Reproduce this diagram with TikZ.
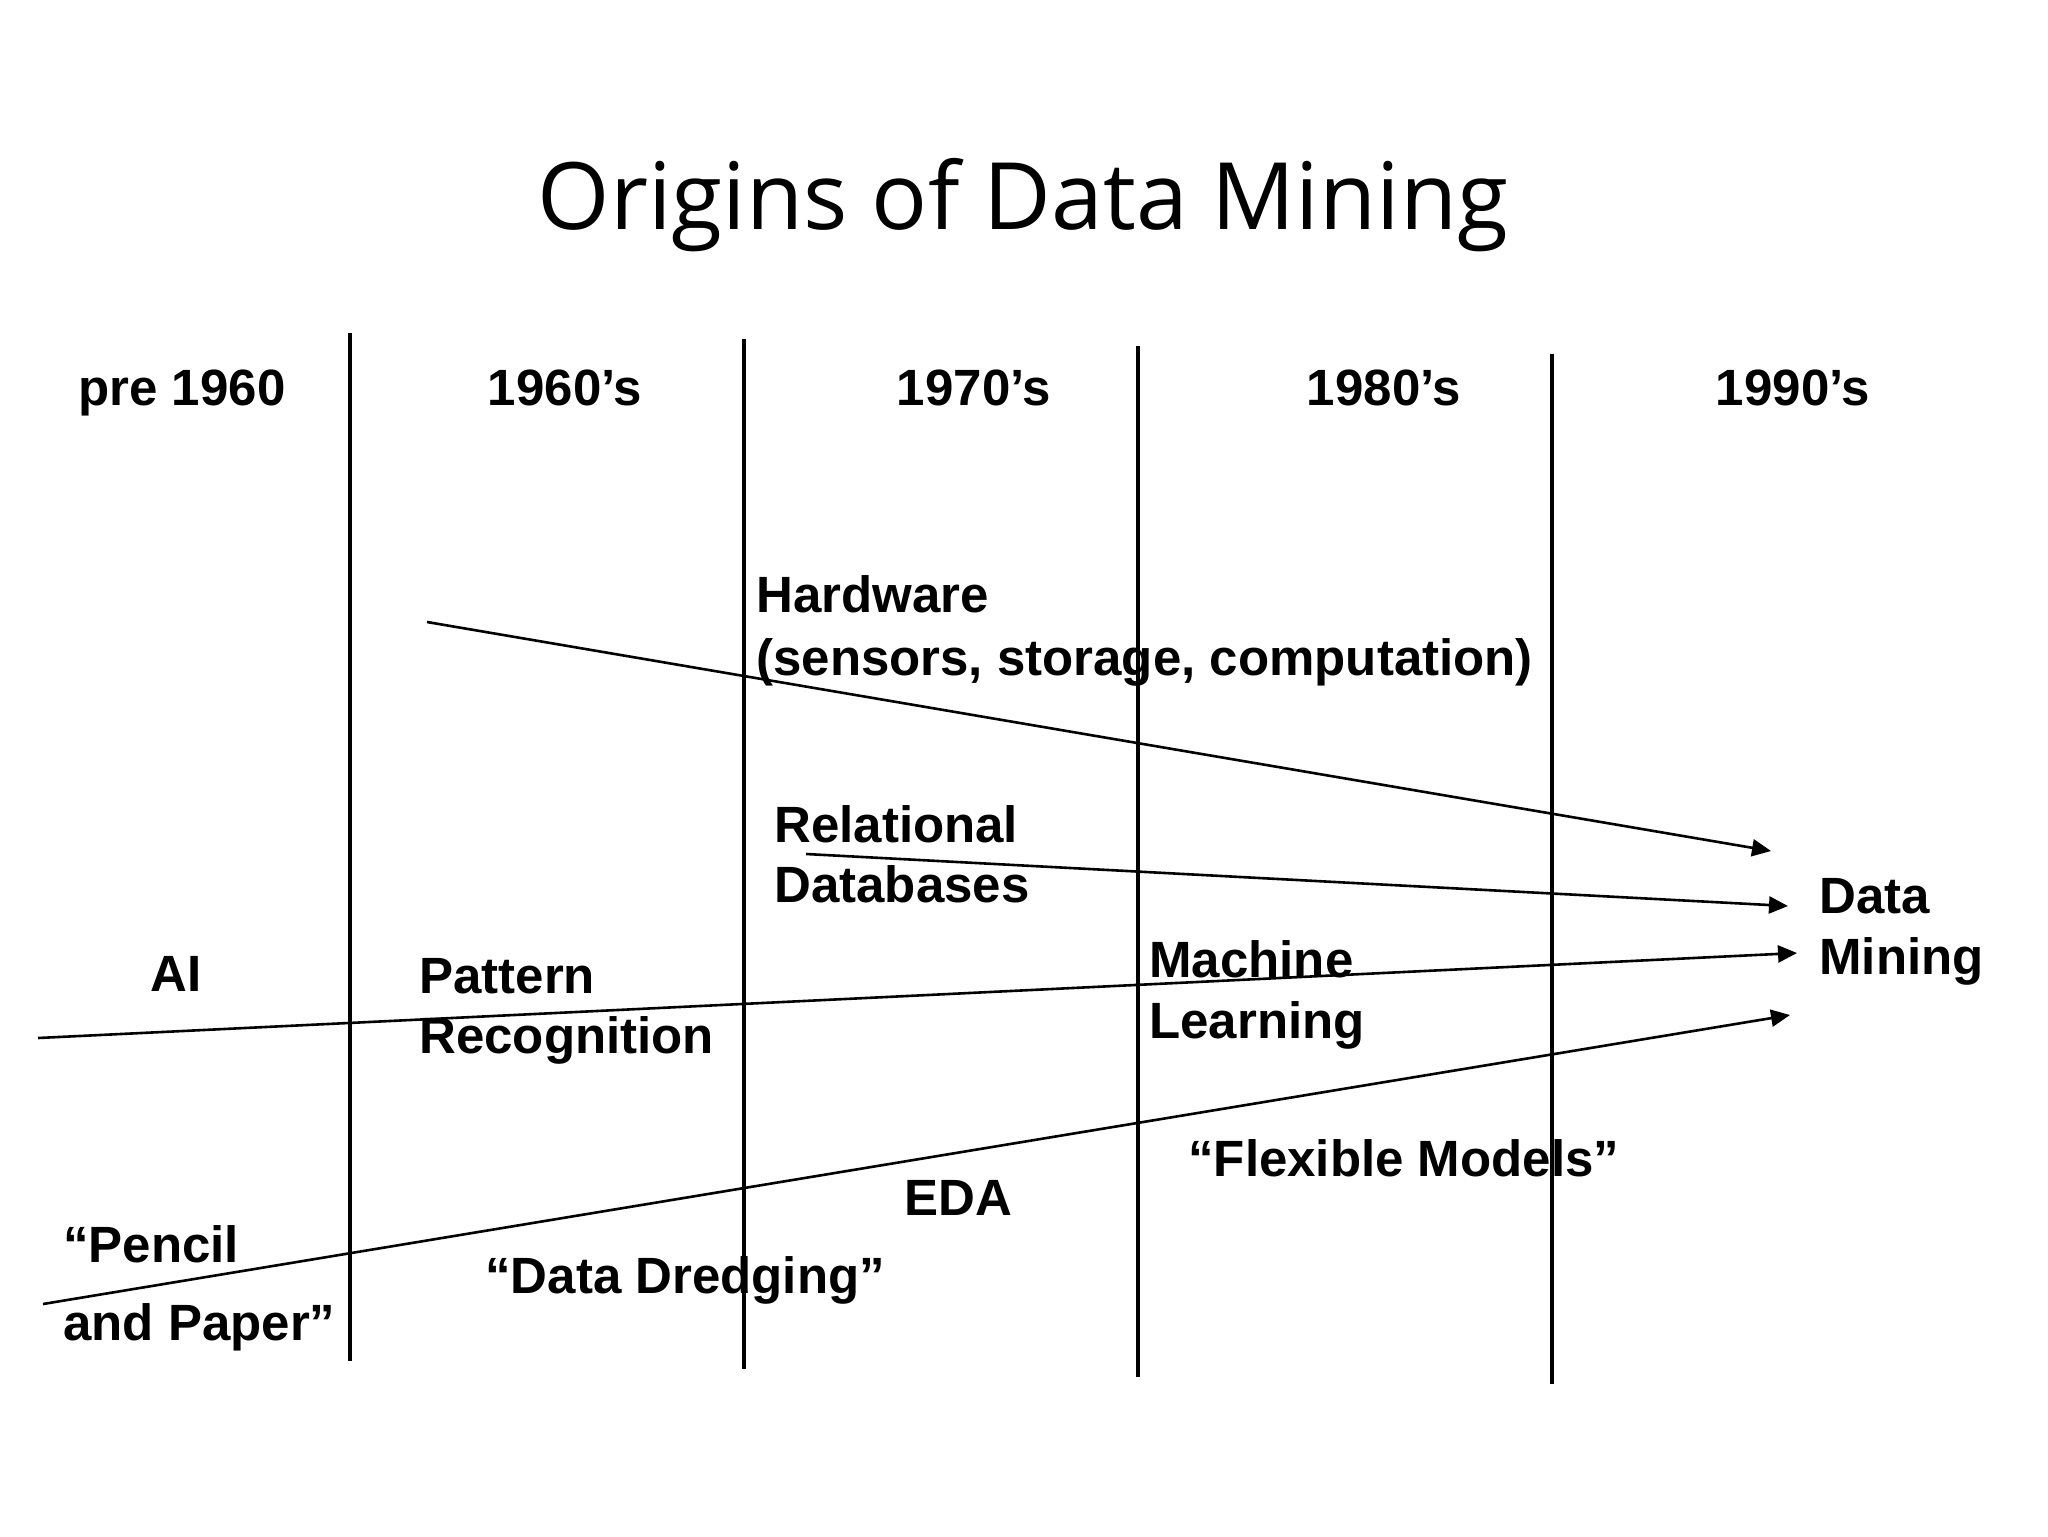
\documentclass[tikz,border=0pt]{standalone}
\usepackage{fontspec}
\setmainfont{Liberation Sans}
\newfontfamily\titlefont{Open Sans}
\usetikzlibrary{arrows.meta}
\begin{document}
\begin{tikzpicture}[x=0.5pt,y=-0.5pt,
  lbl/.style={font=\fontsize{25.5}{30}\selectfont\bfseries, inner sep=0pt, anchor=base west},
  hdr/.style={font=\fontsize{25.5}{30}\selectfont\bfseries, inner sep=0pt, anchor=base},
  vline/.style={line width=1.6pt},
  flow/.style={line width=1.3pt, -{Triangle[length=9.5pt,width=8.5pt]}}]
\useasboundingbox (0,0) rectangle (2048,1536);
% title
\node[font=\titlefont\fontsize{46.5}{56}\selectfont, inner sep=0pt, anchor=base] (title) at (1023,229) {Origins of Data Mining};
% period headers
\node[hdr] (h0) at (182,405) {pre 1960};
\node[hdr] (h1) at (565,405) {1960’s};
\node[hdr] (h2) at (974,405) {1970’s};
\node[hdr] (h3) at (1384,405) {1980’s};
\node[hdr] (h4) at (1793,405) {1990’s};
% divider lines
\coordinate (v1t) at (350,333); \coordinate (v1b) at (350,1361);
\coordinate (v2t) at (744,339); \coordinate (v2b) at (744,1369);
\coordinate (v3t) at (1138,346); \coordinate (v3b) at (1138,1377);
\coordinate (v4t) at (1552,354); \coordinate (v4b) at (1552,1384);
\draw[vline] (v1t) -- (v1b);
\draw[vline] (v2t) -- (v2b);
\draw[vline] (v3t) -- (v3b);
\draw[vline] (v4t) -- (v4b);
% labels
\node[lbl] (hw1) at (756,612) {Hardware};
\node[lbl] (hw2) at (756,675) {(sensors, storage, computation)};
\node[lbl] (rd1) at (774,842) {Relational};
\node[lbl] (rd2) at (774,902) {Databases};
\node[lbl] (dm1) at (1819,913) {Data};
\node[lbl] (dm2) at (1819,974) {Mining};
\node[hdr] (ai) at (176,991) {AI};
\node[lbl] (pr1) at (419,993) {Pattern};
\node[lbl] (pr2) at (419,1053) {Recognition};
\node[lbl] (ml1) at (1149,977) {Machine};
\node[lbl] (ml2) at (1149,1038) {Learning};
\node[lbl] (fm) at (1188,1176) {“Flexible Models”};
\node[lbl] (eda) at (904,1215) {EDA};
\node[lbl] (dd) at (485,1293) {“Data Dredging”};
\node[lbl] (pp1) at (63,1262) {“Pencil};
\node[lbl] (pp2) at (63,1340) {and Paper”};
% arrows into Data Mining
\coordinate (a1s) at (427,622);  \coordinate (a1e) at (1771,851);
\coordinate (a2s) at (806,854);  \coordinate (a2e) at (1788,906);
\coordinate (a3s) at (38,1038);  \coordinate (a3e) at (1797,953);
\coordinate (a4s) at (43,1304);  \coordinate (a4e) at (1790,1015);
\draw[flow] (a1s) -- (a1e);
\draw[flow] (a2s) -- (a2e);
\draw[flow] (a3s) -- (a3e);
\draw[flow] (a4s) -- (a4e);
\end{tikzpicture}
\end{document}
